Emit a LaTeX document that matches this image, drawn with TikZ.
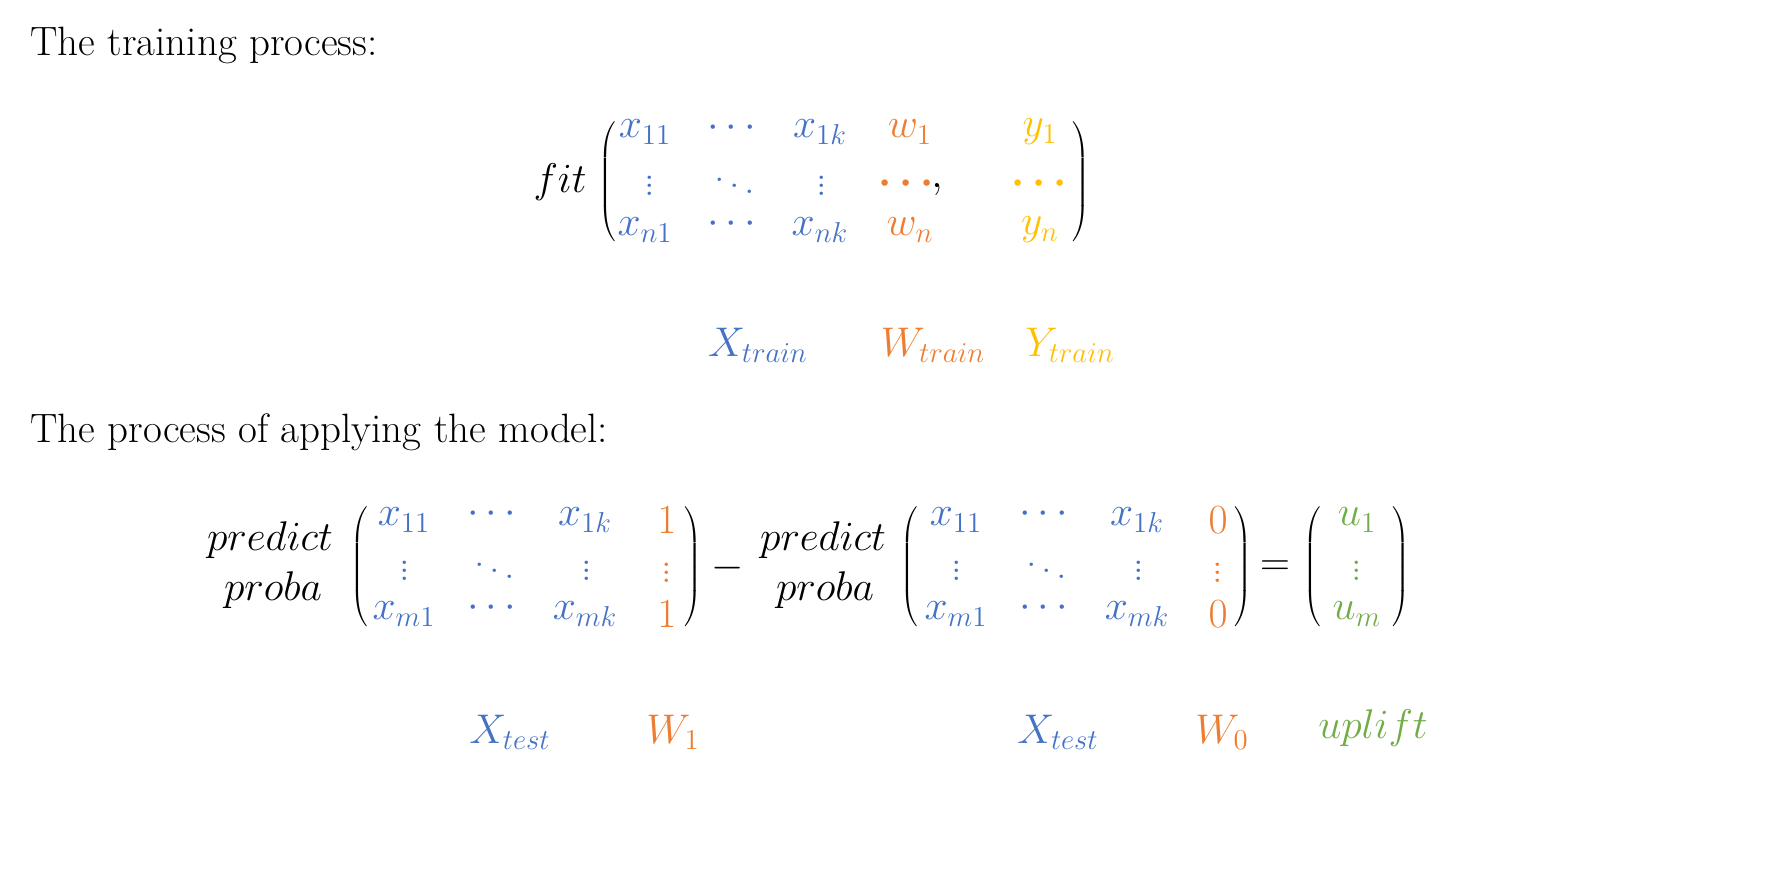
\documentclass[tikz,border=0pt]{standalone}
\usepackage{amsmath}
\definecolor{cb}{HTML}{4472C4}
\definecolor{co}{HTML}{ED7D31}
\definecolor{cy}{HTML}{FFC000}
\definecolor{cg}{HTML}{70AD47}
\begin{document}
\begin{tikzpicture}[x=0.5pt,y=-0.5pt,
  txt/.style={anchor=west,inner sep=0pt,font=\fontsize{20.5}{24}\selectfont},
  m/.style={inner sep=0pt,font=\fontsize{21}{24}\selectfont},
  big/.style={inner sep=0pt,font=\fontsize{21}{25}\selectfont},
  lp/.style={inner sep=0pt},
  b/.style={m,text=cb},o/.style={m,text=co},yy/.style={m,text=cy},g/.style={m,text=cg}]
\useasboundingbox (0,0) rectangle (1778,894);
\newcommand{\LP}{$\left(\vcenter{\hbox{\rule{0pt}{64pt}}}\right.$}
\newcommand{\RP}{$\left.\vcenter{\hbox{\rule{0pt}{64pt}}}\right)$}
\node[txt] (t1) at (30,45) {The training process:};
\node[big] (fit) at (560,182) {$fit$};
\node[lp] (p1) at (608,182) {\LP};
\node[b] (a11) at (645,132) {$x_{11}$};
\node[b] (a12) at (735,128) {$\cdots$};
\node[b] (a13) at (820,132) {$x_{1k}$};
\node[o] (a14) at (910,132) {$w_{1}$};
\node[yy] (a15) at (1040,132) {$y_{1}$};
\node[b] (a21) at (650,180) {$\vdots$};
\node[b] (a22) at (735,180) {$\ddots$};
\node[b] (a23) at (822,180) {$\vdots$};
\node[o] (a24) at (910,184) {$\boldsymbol{\cdots}$};
\node[m] (cm) at (937,190) {$,$};
\node[yy] (a25) at (1043,184) {$\boldsymbol{\cdots}$};
\node[b] (a31) at (645,230) {$x_{n1}$};
\node[b] (a32) at (735,224) {$\cdots$};
\node[b] (a33) at (820,230) {$x_{nk}$};
\node[o] (a34) at (910,230) {$w_{n}$};
\node[yy] (a35) at (1040,230) {$y_{n}$};
\node[lp] (p2) at (1080,182) {\RP};
\node[b] (l1) at (758,345) {$X_{train}$};
\node[o] (l2) at (933,345) {$W_{train}$};
\node[yy] (l3) at (1070,345) {$Y_{train}$};
\node[txt] (t2) at (30,432) {The process of applying the model:};
% first predict
\node[big] (pr1) at (270,540) {$predict$};
\node[big] (pb1) at (273,590) {$proba$};
\node[lp] (q1) at (360,567) {\LP};
\node[b] (b11) at (404,520) {$x_{11}$};
\node[b] (b12) at (495,514) {$\cdots$};
\node[b] (b13) at (585,520) {$x_{1k}$};
\node[o] (b14) at (667,520) {$1$};
\node[b] (b21) at (405,565) {$\vdots$};
\node[b] (b22) at (495,565) {$\ddots$};
\node[b] (b23) at (587,565) {$\vdots$};
\node[o] (b24) at (667,567) {$\vdots$};
\node[b] (b31) at (404,614) {$x_{m1}$};
\node[b] (b32) at (495,608) {$\cdots$};
\node[b] (b33) at (585,614) {$x_{mk}$};
\node[o] (b34) at (667,614) {$1$};
\node[lp] (q2) at (692,567) {\RP};
\node[big] (mi) at (728,568) {$-$};
% second predict
\node[big] (pr2) at (823,540) {$predict$};
\node[big] (pb2) at (825,590) {$proba$};
\node[lp] (q3) at (910,567) {\LP};
\node[b] (c11) at (956,520) {$x_{11}$};
\node[b] (c12) at (1047,514) {$\cdots$};
\node[b] (c13) at (1137,520) {$x_{1k}$};
\node[o] (c14) at (1218,520) {$0$};
\node[b] (c21) at (957,565) {$\vdots$};
\node[b] (c22) at (1047,565) {$\ddots$};
\node[b] (c23) at (1139,565) {$\vdots$};
\node[o] (c24) at (1218,567) {$\vdots$};
\node[b] (c31) at (956,614) {$x_{m1}$};
\node[b] (c32) at (1047,608) {$\cdots$};
\node[b] (c33) at (1137,614) {$x_{mk}$};
\node[o] (c34) at (1218,614) {$0$};
\node[lp] (q4) at (1242,567) {\RP};
\node[big] (eq) at (1275,568) {$=$};
\node[lp] (q5) at (1313,567) {\LP};
\node[g] (u1) at (1357,520) {$u_{1}$};
\node[g] (u2) at (1357,565) {$\vdots$};
\node[g] (u3) at (1357,614) {$u_{m}$};
\node[lp] (q6) at (1400,567) {\RP};
\node[b] (k1) at (510,732) {$X_{test}$};
\node[o] (k2) at (673,732) {$W_{1}$};
\node[b] (k3) at (1058,732) {$X_{test}$};
\node[o] (k4) at (1222,732) {$W_{0}$};
\node[g] (k5) at (1373,728) {$uplift$};
\end{tikzpicture}
\end{document}
